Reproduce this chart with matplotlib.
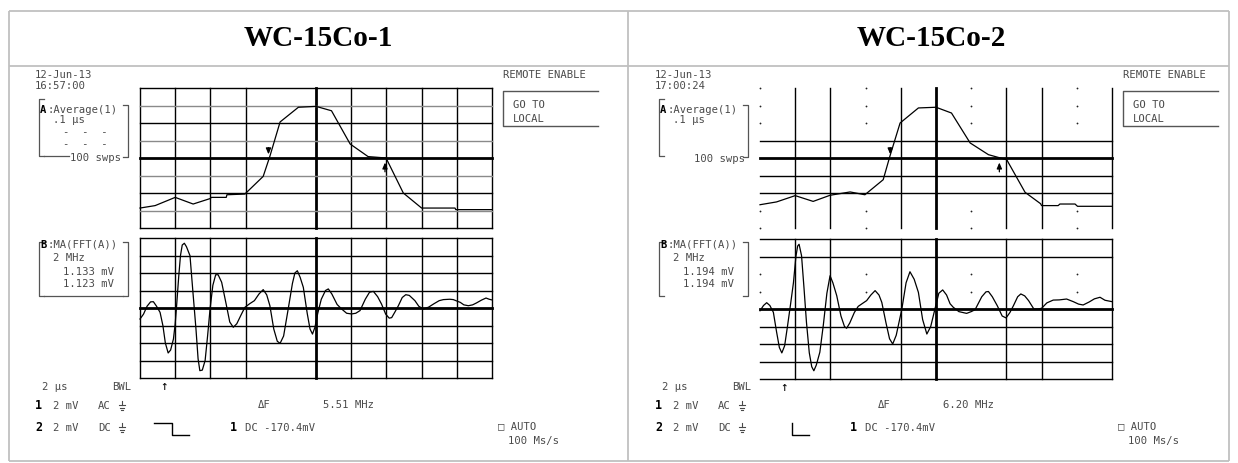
import matplotlib
matplotlib.use("Agg")
import matplotlib.pyplot as plt

# ---------------- data (divisions) ----------------
titles = ["WC-15Co-1", "WC-15Co-2"]
dates = ["12-Jun-13", "12-Jun-13"]
times = ["16:57:00", "17:00:24"]
df_values = ["5.51 MHz", "6.20 MHz"]
meas_b = [["1.133 mV", "1.123 mV"], ["1.194 mV", "1.194 mV"]]

top1_t = [0, 0.43, 1.0, 1.51, 1.99, 2.03, 2.45, 2.47, 2.98, 3.5, 3.69, 3.98, 4.5, 5.0,
          5.44, 5.97, 6.48, 6.68, 6.99, 7.48, 8.0, 8.95, 8.97, 10]
top1_v = [-2.86, -2.72, -2.25, -2.63, -2.32, -2.25, -2.25, -2.1, -2.06, -1.05, 0.1, 2.06, 2.9, 2.95,
          2.7, 0.8, 0.08, 0.05, 0.0, -2.0, -2.86, -2.86, -2.95, -2.95]

bot1_t = [0, 0.1, 0.2, 0.3, 0.38, 0.47, 0.57, 0.65, 0.72, 0.8, 0.87, 0.95, 1.0, 1.04, 1.1,
          1.15, 1.2, 1.26, 1.32, 1.42, 1.5, 1.59, 1.65, 1.7, 1.77, 1.85, 1.92, 1.99, 2.07,
          2.15, 2.22, 2.32, 2.45, 2.55, 2.65, 2.75, 2.87, 2.98, 3.12, 3.25, 3.38, 3.5, 3.6,
          3.69, 3.8, 3.9, 3.98, 4.08, 4.21, 4.33, 4.4, 4.47, 4.55, 4.64, 4.75, 4.83, 4.9,
          4.97, 5.05, 5.15, 5.27, 5.35, 5.45, 5.6, 5.73, 5.87, 6.01, 6.13, 6.25, 6.4, 6.52,
          6.63, 6.75, 6.86, 6.98, 7.08, 7.15, 7.25, 7.34, 7.45, 7.55, 7.65, 7.81, 7.92, 8.05,
          8.2, 8.34, 8.5, 8.62, 8.8, 8.9, 9.1, 9.2, 9.33, 9.45, 9.56, 9.7, 9.83, 9.92, 10]
bot1_v = [-0.63, -0.35, 0.1, 0.35, 0.36, 0.1, -0.25, -1.0, -2.0, -2.57, -2.4, -1.77, -0.9, 0.13, 1.8,
          3.0, 3.6, 3.7, 3.5, 2.99, 1.0, -1.2, -2.9, -3.58, -3.55, -3.0, -1.6, -0.06, 1.3,
          1.9, 1.9, 1.47, 0.2, -0.8, -1.1, -0.9, -0.4, 0.04, 0.25, 0.42, 0.8, 1.05, 0.75,
          0.13, -1.2, -1.9, -2.02, -1.6, -0.06, 1.4, 2.0, 2.13, 1.75, 1.18, -0.3, -1.2, -1.49,
          -1.1, -0.3, 0.5, 1.0, 1.09, 0.8, 0.2, -0.06, -0.3, -0.34, -0.3, -0.15, 0.5, 0.9,
          0.95, 0.65, 0.23, -0.35, -0.58, -0.55, -0.2, 0.13, 0.6, 0.76, 0.72, 0.42, 0.1, -0.06,
          0.05, 0.23, 0.42, 0.48, 0.5, 0.48, 0.32, 0.18, 0.13, 0.18, 0.29, 0.45, 0.57, 0.5, 0.46]

top2_t = [0, 0.47, 1.0, 1.51, 1.99, 2.56, 2.98, 3.5, 3.69, 3.98, 4.5, 5.0, 5.44, 5.97, 6.49,
          7.01, 7.53, 7.97, 8.0, 8.47, 8.52, 8.95, 9.02, 10]
top2_v = [-2.67, -2.51, -2.15, -2.48, -2.13, -1.94, -2.1, -1.24, 0.1, 2.0, 2.86, 2.9, 2.57, 0.86, 0.19,
          -0.1, -1.96, -2.61, -2.72, -2.72, -2.63, -2.63, -2.76, -2.76]

bot2_t = [0, 0.1, 0.19, 0.28, 0.38, 0.47, 0.55, 0.62, 0.7, 0.78, 0.87, 0.95, 1.02, 1.07, 1.11,
          1.18, 1.25, 1.32, 1.4, 1.47, 1.53, 1.6, 1.7, 1.8, 1.9, 1.99, 2.07, 2.18, 2.3, 2.4,
          2.46, 2.55, 2.68, 2.79, 2.92, 3.03, 3.15, 3.27, 3.38, 3.46, 3.58, 3.68, 3.77, 3.87,
          4.03, 4.15, 4.26, 4.38, 4.5, 4.62, 4.74, 4.85, 4.97, 5.08, 5.19, 5.3, 5.4, 5.49,
          5.65, 5.87, 6.0, 6.11, 6.3, 6.42, 6.49, 6.6, 6.74, 6.88, 6.99, 7.1, 7.2, 7.32, 7.41,
          7.52, 7.63, 7.78, 7.9, 8.0, 8.15, 8.33, 8.5, 8.71, 8.9, 9.05, 9.18, 9.35, 9.5, 9.66,
          9.8, 10]
bot2_v = [-0.1, 0.2, 0.36, 0.2, -0.19, -1.3, -2.2, -2.51, -2.1, -1.0, 0.3, 1.5, 3.0, 3.6, 3.7,
          3.05, 1.2, -0.76, -2.5, -3.3, -3.53, -3.2, -2.47, -0.9, 0.9, 1.9, 1.5, 0.76, -0.4, -1.0,
          -1.1, -0.8, -0.2, 0.15, 0.33, 0.48, 0.8, 1.05, 0.8, 0.38, -0.8, -1.7, -2.0, -1.5,
          0.0, 1.5, 2.13, 1.7, 0.95, -0.6, -1.43, -1.0, 0.0, 0.9, 1.09, 0.8, 0.3, 0.1,
          -0.15, -0.25, -0.15, -0.04, 0.7, 0.98, 1.0, 0.7, 0.19, -0.4, -0.51, -0.2, 0.19, 0.7, 0.86,
          0.75, 0.48, 0.0, 0.0, 0.04, 0.35, 0.51, 0.52, 0.57, 0.42, 0.28, 0.23, 0.4, 0.58, 0.67,
          0.5, 0.42]

cursor_down = [3.65, 3.7]
cursor_up = [6.96, 6.8]
trigger_pos = [0.68, 0.68]

# ---------------- layout ----------------
W, H = 1238, 464
fig = plt.figure(figsize=(W / 100, H / 100), dpi=100)
ov = fig.add_axes([0, 0, 1, 1], zorder=0)
ov.set_xlim(0, W)
ov.set_ylim(H, 0)
ov.axis("off")

BORDER = "#c0c0c0"
for y in (12, 67, 462):
    ov.plot([9, 1229], [y, y], color=BORDER, lw=1.3, solid_capstyle="butt")
for x in (9, 628, 1229):
    ov.plot([x, x], [12, 462], color=BORDER, lw=1.3, solid_capstyle="butt")

for i, t in enumerate(titles):
    ov.text([318, 931][i], 38, t, ha="center", va="center", fontsize=21,
            fontweight="bold", family="Liberation Serif", color="black")

MONO = ["DejaVu Sans Mono", "DejaVu Sans"]
TC = "#4a4a4a"
FS = 7.6


def txt(x, y, s, bold=False, ha="left", color=TC, fs=FS):
    ov.text(x, y, s, ha=ha, va="center", fontsize=fs, family=MONO,
            fontweight="bold" if bold else "normal", color=color)


def ground(x, y):
    # ground symbol (no installed font has U+23DA), drawn as a small shape
    ov.plot([x + 3, x + 3], [y - 5, y - 1], color=TC, lw=0.8)
    ov.plot([x, x + 6], [y - 1, y - 1], color=TC, lw=0.8)
    ov.plot([x + 1, x + 5], [y + 1.5, y + 1.5], color=TC, lw=0.8)
    ov.plot([x + 2, x + 4], [y + 4, y + 4], color=TC, lw=0.8)


def px_axes(x0, y0, x1, y1):
    a = fig.add_axes([x0 / W, 1 - y1 / H, (x1 - x0) / W, (y1 - y0) / H], zorder=2)
    a.set_xlim(0, 10)
    a.set_ylim(-4, 4)
    a.axis("off")
    return a


def grid(ax, solid_x, solid_y, gray_y=(), dotted=False):
    for x in range(11):
        if x in solid_x:
            ax.axvline(x, color="black", lw=2.0 if x == 5 else 1.0, clip_on=False)
    for y in range(-4, 5):
        if y in solid_y:
            c = "#8a8a8a" if y in gray_y else "black"
            ax.axhline(y, color=c, lw=2.0 if y == 0 else 1.0, clip_on=False)
        elif dotted:
            ax.plot([x for x in range(11) if x not in solid_x], [y] * (11 - len(solid_x)),
                    ls="none", marker="o", ms=1.3, mew=0, color="#222222", clip_on=False)


ALL = list(range(11))
for p in range(2):
    dx = 620 * p
    ax_top = px_axes(140 + dx, 89, 492 + dx, 229)
    ax_bot = px_axes(140 + dx, 239 + p, 492 + dx, 379 + p)
    if p == 0:
        sx = [x for x in ALL if x != 4]
        grid(ax_top, sx, list(range(-4, 5)), gray_y=(3, 1, -1, -3))
        grid(ax_bot, sx, list(range(-4, 5)))
        tt, tv, bt, bv = top1_t, top1_v, bot1_t, bot1_v
    else:
        sx = [1, 2, 4, 5, 7, 8, 10]
        grid(ax_top, sx, [1, 0, -1, -2], dotted=True)
        grid(ax_bot, sx, [4, 3, 0, -1, -2, -3, -4], dotted=True)
        tt, tv, bt, bv = top2_t, top2_v, bot2_t, bot2_v
    ax_top.plot(tt, tv, color="black", lw=0.9, clip_on=False, zorder=5)
    ax_bot.plot(bt, bv, color="black", lw=0.9, clip_on=False, zorder=5)
    ax_top.annotate("", xy=(cursor_down[p], 0.05), xytext=(cursor_down[p], 0.75),
                    arrowprops=dict(arrowstyle="-|>,head_length=0.35,head_width=0.15",
                                    color="black", lw=0.9))
    ax_top.annotate("", xy=(cursor_up[p], -0.1), xytext=(cursor_up[p], -0.95),
                    arrowprops=dict(arrowstyle="-|>,head_length=0.35,head_width=0.15",
                                    color="black", lw=0.9))

    # header text
    txt(35 + dx, 75, dates[p])
    txt(35 + dx, 86, times[p])
    txt(503 + dx, 75, "REMOTE ENABLE")
    # GO TO LOCAL box
    ov.plot([598 + dx, 503 + dx, 503 + dx, 598 + dx], [92, 92, 127, 127],
            color="#555555", lw=1.0)
    txt(513 + dx, 105, "GO TO")
    txt(513 + dx, 119, "LOCAL")

    # channel A box
    ov.plot([44 + dx, 39 + dx, 39 + dx, 44 + dx], [100, 100, 157, 157], color="#555555", lw=0.9)
    ov.plot([123 + dx, 128 + dx, 128 + dx, 123 + dx], [106, 106, 158, 158], color="#555555", lw=0.9)
    txt(40 + dx, 110, "A", bold=True, color="black")
    txt(47 + dx, 110, ":Average(1)")
    txt(53 + dx, 120, ".1 µs")
    if p == 0:
        txt(63 + dx, 132, "-  -  -")
        txt(63 + dx, 144, "-  -  -")
        ov.plot([44 + dx, 69 + dx], [157, 157], color="#555555", lw=0.9)
        txt(70 + dx, 158, "100 swps")
    else:
        txt(125 + dx, 159, "100 swps", ha="right")

    # channel B box
    ov.plot([44 + dx, 39 + dx, 39 + dx, 44 + dx], [243, 243, 297, 297], color="#555555", lw=0.9)
    ov.plot([123 + dx, 128 + dx, 128 + dx, 123 + dx], [243, 243, 297, 297], color="#555555", lw=0.9)
    if p == 0:
        ov.plot([44 + dx, 123 + dx], [297, 297], color="#555555", lw=0.9)
    txt(40 + dx, 245, "B", bold=True, color="black")
    txt(47 + dx, 245, ":MA(FFT(A))")
    txt(53 + dx, 258, "2 MHz")
    txt(63 + dx, 272, meas_b[p][0])
    txt(63 + dx, 284, meas_b[p][1])

    # bottom status text
    txt(42 + dx, 387, "2 µs")
    txt(112 + dx, 387, "BWL")
    ax_bot.text(trigger_pos[p], -4.45, "↑", ha="center", va="center", fontsize=9,
                family=MONO, color="black", clip_on=False)
    txt(35 + dx, 406, "1", bold=True, color="black", fs=8.5)
    txt(53 + dx, 406, "2 mV")
    txt(98 + dx, 406, "AC")
    ground(119 + dx, 407)
    txt(258 + dx, 405, "ΔF")
    txt(323 + dx, 405, df_values[p])
    txt(35 + dx, 428, "2", bold=True, color="black", fs=8.5)
    txt(53 + dx, 428, "2 mV")
    txt(98 + dx, 428, "DC")
    ground(119 + dx, 429)
    if p == 0:
        ov.plot([154 + dx, 172 + dx, 172 + dx, 189 + dx], [424, 424, 436, 436], color="black", lw=1.0)
    else:
        ov.plot([172 + dx, 172 + dx, 189 + dx], [424, 436, 436], color="black", lw=1.0)
    txt(230 + dx, 428, "1", bold=True, color="black", fs=8.5)
    txt(245 + dx, 428, "DC -170.4mV")
    txt(498 + dx, 426, "□ AUTO")
    txt(508 + dx, 441, "100 Ms/s")

fig.savefig("out.png", dpi=100, facecolor="white")
